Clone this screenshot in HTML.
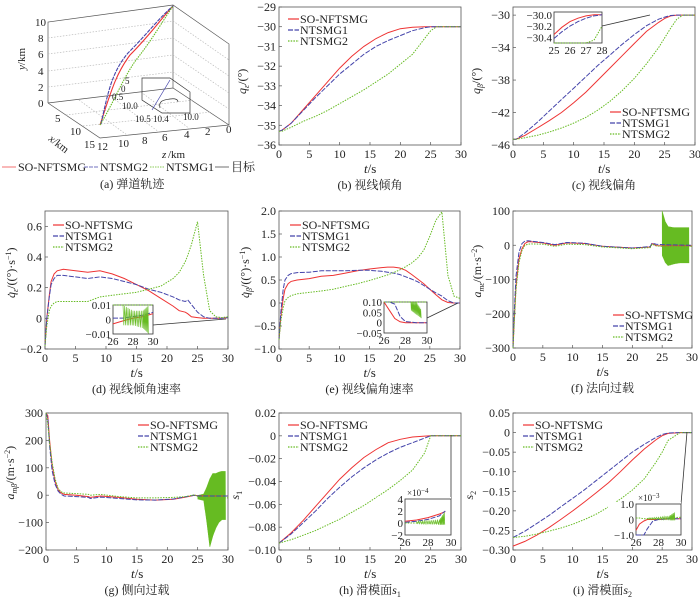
<!DOCTYPE html>
<html><head><meta charset="utf-8"><style>
html,body{margin:0;padding:0;background:#fff;}
svg, svg text{font-family:"Liberation Serif","Noto Serif CJK SC","Noto Sans CJK SC",serif;}
</style></head><body>
<svg id="fig" width="700" height="602" viewBox="0 0 700 602" xmlns="http://www.w3.org/2000/svg" font-family="Liberation Serif, Noto Serif CJK SC, serif">
<g id="panelA" stroke="#444" fill="none" stroke-width="0.7">
  <polyline points="48,103 48,22 173,5 229,44 229,125 173,88 48,103" stroke="#555"/>
  <line x1="173" y1="5" x2="173" y2="88" stroke="#555"/>
  <polyline points="48,103 100,138 229,125" stroke="#555"/>
  <g stroke="#bbb" stroke-dasharray="1.5,1.5">
    <line x1="48" y1="87" x2="173" y2="72"/><line x1="48" y1="71" x2="173" y2="55"/>
    <line x1="48" y1="54" x2="173" y2="38"/><line x1="48" y1="38" x2="173" y2="21"/>
    <line x1="173" y1="72" x2="229" y2="109"/><line x1="173" y1="55" x2="229" y2="93"/>
    <line x1="173" y1="38" x2="229" y2="76"/><line x1="173" y1="21" x2="229" y2="60"/>
    <line x1="66" y1="115" x2="194" y2="100"/><line x1="83" y1="126" x2="211" y2="112"/>
    <line x1="79" y1="100" x2="127" y2="135"/><line x1="110" y1="96" x2="159" y2="132"/><line x1="141" y1="92" x2="190" y2="129"/>
  </g>
  <path d="M100,125 C110,95 115,75 130,55 C150,35 160,20 173,6" stroke="#e33" stroke-width="1.1"/>
  <path d="M101,124 C108,92 112,72 128,53 C148,33 158,19 173,6" stroke="#44a" stroke-width="1.1" stroke-dasharray="4,1"/>
  <path d="M100,125 C115,100 122,80 136,60 C152,40 162,22 173,6" stroke="#6b2" stroke-width="1.1" stroke-dasharray="1.5,1"/>
  <polygon points="142,78 170,78 190,92 190,113 162,113 142,100" stroke="#333"/>
  <path d="M152,110 L170,80" stroke="#44a"/>
  <path d="M160,108 C158,100 165,100 170,99 C176,98 178,100 178,102" stroke="#333"/>
  <g fill="#222" stroke="none" font-size="11">
    <text x="35" y="26">10</text><text x="38" y="42">8</text><text x="38" y="58">6</text><text x="38" y="75">4</text><text x="38" y="91">2</text><text x="38" y="107">0</text>
    <text x="55" y="122">5</text><text x="70" y="135">10</text><text x="84" y="148">15</text>
    <text x="97" y="150">12</text><text x="118" y="147">10</text><text x="142" y="144">8</text><text x="162" y="141">6</text><text x="184" y="138">4</text><text x="205" y="135">2</text><text x="226" y="133">0</text>
    <text x="122" y="109" font-size="9">10.0</text><text x="135" y="122" font-size="9">10.5</text><text x="153" y="122" font-size="9">10.4</text><text x="183" y="120" font-size="9">10.0</text>
    <text x="125" y="84" font-size="9">5</text><text x="121" y="92" font-size="9">0</text><text x="112" y="100" font-size="9">0.5</text>
    <text x="162" y="158" font-style="italic">z</text><text x="168" y="158">/km</text>
    <text transform="translate(25,70) rotate(-90)" font-style="italic">y<tspan font-style="normal">/km</tspan></text>
    <text transform="translate(48,140) rotate(38)" font-style="italic">x<tspan font-style="normal">/km</tspan></text>
  </g>
  <g font-size="12" stroke="none" fill="#222">
    <line x1="2" y1="167" x2="16" y2="167" stroke="#e33"/><text x="18" y="171">SO-NFTSMG</text>
    <line x1="84" y1="167" x2="98" y2="167" stroke="#44a" stroke-dasharray="4,1"/><text x="100" y="171">NTSMG2</text>
    <line x1="150" y1="167" x2="164" y2="167" stroke="#6b2" stroke-dasharray="1.5,1"/><text x="166" y="171">NTSMG1</text>
    <line x1="215" y1="167" x2="229" y2="167" stroke="#333"/><text x="231" y="171">目标</text>
  </g>
  <text x="100" y="188" font-size="12" fill="#222" stroke="none">(a) 弹道轨迹</text>
</g>
</svg>
<script>
// ---------- data ----------
const tB=[0,0.5,2,4,6,8,10,12,14,16,18,20,22,24,25,26,27,28,30];
const bRed=[-35.3,-35.25,-34.9,-34.2,-33.5,-32.8,-32.1,-31.5,-31.0,-30.6,-30.3,-30.1,-30.03,-30.0,-30,-30,-30,-30,-30];
const bBlue=[-35.3,-35.25,-34.9,-34.25,-33.6,-33.0,-32.4,-31.9,-31.4,-31.0,-30.7,-30.45,-30.2,-30.05,-30.0,-30,-30,-30,-30];
const bGreen=[-35.3,-35.3,-35.1,-34.8,-34.55,-34.25,-33.9,-33.55,-33.2,-32.8,-32.4,-31.9,-31.4,-30.6,-30.2,-30.0,-30,-30,-30];
const cRed=[-45.3,-45.3,-44.8,-43.9,-43.0,-42.0,-40.8,-39.5,-38.0,-36.5,-35.0,-33.5,-32.0,-30.9,-30.4,-30.1,-30.0,-30,-30];
const cBlue=[-45.3,-45.3,-44.5,-43.2,-41.8,-40.4,-39.0,-37.6,-36.2,-34.9,-33.6,-32.4,-31.3,-30.5,-30.25,-30.05,-30,-30,-30];
const cGreen=[-45.3,-45.3,-45.1,-44.8,-44.4,-43.9,-43.3,-42.6,-41.7,-40.6,-39.3,-37.8,-36.0,-34.0,-32.8,-31.6,-30.5,-30.0,-30];
const tD=[0,0.3,0.7,1,1.5,2,3,5,7,9,11,13,15,17,19,21,22,23,23.4,24,25,26,27,28,29,30];
const dRed=[-0.18,0,0.15,0.24,0.29,0.31,0.32,0.31,0.3,0.31,0.29,0.26,0.22,0.18,0.13,0.08,0.05,0.04,0.03,0.01,0.005,0,0,0,0,0.005];
const dBlue=[-0.18,0,0.14,0.22,0.26,0.28,0.28,0.27,0.26,0.27,0.26,0.24,0.22,0.19,0.17,0.14,0.12,0.11,0.12,0.09,0.04,0.01,0,0,0,0.005];
const dGreen=[-0.18,-0.05,0.05,0.08,0.1,0.11,0.11,0.11,0.11,0.14,0.15,0.16,0.17,0.19,0.21,0.26,0.3,0.37,0.41,0.48,0.63,0.28,0.05,0.01,0.005,0.01];
const tE=[0,0.3,0.7,1,1.5,2,3,5,7,9,11,13,15,17,18,19,20,21,22,23,24,25,26,27,28,29,30];
const eRed=[-0.8,-0.3,0.1,0.3,0.42,0.47,0.5,0.53,0.58,0.6,0.65,0.7,0.74,0.77,0.78,0.78,0.76,0.71,0.62,0.52,0.42,0.3,0.18,0.07,0.01,0,0];
const eBlue=[-0.8,-0.2,0.3,0.5,0.6,0.64,0.66,0.67,0.7,0.7,0.7,0.71,0.71,0.69,0.67,0.65,0.62,0.57,0.52,0.46,0.38,0.3,0.22,0.15,0.05,0,0];
const eGreen=[-0.8,-0.4,-0.1,0.05,0.12,0.16,0.2,0.23,0.26,0.3,0.36,0.42,0.49,0.57,0.61,0.66,0.72,0.79,0.87,0.98,1.15,1.45,1.8,1.98,0.6,0.15,0.1];
const tF=[0,0.2,0.5,1,1.5,2,2.5,3,5,7,9,12,15,17,20,23,23.3,24,25,27,30];
const fRed=[-300,-220,-120,-40,-10,5,10,10,7,0,7,5,-3,-5,-8,-5,5,-1,-2,-2,-2];
const fBlue=[-300,-200,-90,-20,5,12,13,12,8,2,8,6,-3,-5,-8,-4,6,3,2,1,0];
const fGreen=[-300,-230,-130,-50,-15,0,3,4,3,-3,3,2,-5,-7,-10,-7,3,-2,-3,-3,-3];
const fBandT=[25,25.5,26,27,28,29,29.5];
const fBandHi=[100,70,55,52,52,52,52];
const fBandLo=[-30,-50,-60,-55,-52,-52,-52];
const tG=[0,0.3,0.6,1,1.5,2,2.5,3,5,7,7.3,9,12,15,18,21,23,24.5,25,27,30];
const gRed=[300,290,200,110,50,20,8,3,0,-5,-8,-3,-8,-15,-18,-15,-7,0,-2,-3,-3];
const gBlue=[300,280,180,90,40,15,3,-3,-5,-8,-12,-7,-12,-17,-18,-14,-6,0,-3,-3,-3];
const gGreen=[300,260,190,120,60,25,12,8,6,3,0,3,-5,-10,-10,-8,-5,2,-5,-10,-10];
const gBandT=[25,26,26.5,27,27.5,28,28.5,29,29.6];
const gBandHi=[0,5,30,60,80,80,85,88,88];
const gBandLo=[-15,-20,-100,-190,-150,-120,-100,-90,-90];
const tH=[0,2,4,6,8,10,12,14,16,18,20,22,24,25,26,28,30];
const hRed=[-0.094,-0.085,-0.074,-0.062,-0.05,-0.038,-0.028,-0.019,-0.012,-0.006,-0.003,-0.001,-0.0002,0,0,0,0];
const hBlue=[-0.094,-0.086,-0.076,-0.066,-0.055,-0.045,-0.036,-0.028,-0.021,-0.015,-0.01,-0.006,-0.002,0,0,0,0];
const hGreen=[-0.094,-0.091,-0.087,-0.083,-0.078,-0.073,-0.067,-0.061,-0.054,-0.047,-0.039,-0.03,-0.015,0,0,0,0];
const iRed=[-0.29,-0.278,-0.262,-0.243,-0.222,-0.2,-0.177,-0.153,-0.128,-0.1,-0.07,-0.042,-0.018,-0.008,-0.002,0,0];
const iBlue=[-0.268,-0.252,-0.232,-0.212,-0.19,-0.168,-0.146,-0.122,-0.098,-0.074,-0.05,-0.03,-0.012,-0.005,-0.001,0,0];
const iGreen=[-0.268,-0.265,-0.259,-0.252,-0.244,-0.234,-0.222,-0.208,-0.19,-0.17,-0.147,-0.118,-0.075,-0.05,-0.02,0,0];
const xTicks=[0,5,10,15,20,25,30];
const legendNames=["SO-NFTSMG","NTSMG1","NTSMG2"];

// ---------- drawing ----------
const NS="http://www.w3.org/2000/svg";
const fig=document.getElementById('fig');
const COL=["#e33","#44a","#6b2"];
const DASH=["","5,1.5","1.5,1.2"];
const FF='"Liberation Serif","Noto Serif CJK SC",serif';
function el(tag,attrs,parent){const e=document.createElementNS(NS,tag);for(const k in attrs)e.setAttribute(k,attrs[k]);parent.appendChild(e);return e;}
function txt(s,x,y,parent,extra){const t=el('text',Object.assign({x:x,y:y,'font-size':12,fill:'#222','font-family':FF},extra||{}),parent);t.textContent=s;return t;}

function panel(p){
  const g=el('g',{},fig);
  
  
  const sx=v=>p.x0+(v-p.xmin)/(p.xmax-p.xmin)*(p.x1-p.x0);
  const sy=v=>p.y1-(v-p.ymin)/(p.ymax-p.ymin)*(p.y1-p.y0);
  const frame=el('rect',{x:p.x0,y:p.y0,width:p.x1-p.x0,height:p.y1-p.y0,fill:'none',stroke:'#555','stroke-width':0.8},g);
  
  
  p.xt.forEach(v=>{
    el('line',{x1:sx(v),x2:sx(v),y1:p.y1,y2:p.y1-3,stroke:'#555','stroke-width':0.7},g);
    const t=txt(String(v),sx(v),p.y1+13,g,{'text-anchor':'middle'});
    
    
  });
  p.yt.forEach((v,i)=>{
    el('line',{x1:p.x0,x2:p.x0+3,y1:sy(v),y2:sy(v),stroke:'#555','stroke-width':0.7},g);
    const t=txt(p.ytl[i],p.x0-3,sy(v)+4,g,{'text-anchor':'end'});
    
    
  });
  const xl=txt('',(p.x0+p.x1)/2-6,p.y1+28,g,{'font-size':13});
  xl.innerHTML='<tspan font-style="italic">t</tspan>/s';
  
  
  const yl=txt('',0,0,g,{'font-size':12,transform:'translate('+(p.x0-p.ylOff)+','+((p.y0+p.y1)/2+18)+') rotate(-90)'});
  yl.innerHTML=p.ylab;
  
  
  const cap=txt('',(p.x0+p.x1)/2,p.y1+44,g,{'text-anchor':'middle'});
  cap.innerHTML=p.cap;
  
  
  if(p.band){
    const b=p.band;let d='';
    for(let k=0;k<b.t.length-1;k++){
      const n=30;
      for(let s=0;s<n;s++){
        const f=s/n,tt=b.t[k]+(b.t[k+1]-b.t[k])*f;
        const hi=b.hi[k]+(b.hi[k+1]-b.hi[k])*f, lo=b.lo[k]+(b.lo[k+1]-b.lo[k])*f;
        d+=(d?'L':'M')+sx(tt).toFixed(1)+','+sy(s%2?lo:hi).toFixed(1);
      }
    }
    const bp=el('path',{d:d,fill:'none',stroke:'#6b2','stroke-width':0.6},g);
    
    
  }
  p.series.forEach((s,i)=>{
    const pts=s.map((v,k)=>sx(p.t[k]).toFixed(1)+','+sy(v).toFixed(1)).join(' ');
    const pl=el('polyline',{points:pts,fill:'none',stroke:COL[i],'stroke-width':1,'stroke-dasharray':DASH[i]},g);
    
    
  });
  const lg=el('g',{},g);
  
  
  legendNames.forEach((n,i)=>{
    const yy=p.lg[1]+i*11;
    el('line',{x1:p.lg[0]-12,x2:p.lg[0]-1,y1:yy-4,y2:yy-4,stroke:COL[i],'stroke-width':1.2,'stroke-dasharray':DASH[i]},lg);
    const t=txt(n,p.lg[0],yy,lg);
    
    
  });
  if(p.inset){
    const q=p.inset;
    const ig=el('g',{},g);
    
    
    el('line',{x1:q.x1,y1:q.ly,x2:q.px,y2:q.py,stroke:'#333','stroke-width':0.8},ig);
    el('rect',{x:q.x0-28,y:q.y0-2,width:q.x1-q.x0+28,height:q.y1-q.y0+14,fill:'#fff',stroke:'none'},ig);
    el('rect',{x:q.x0,y:q.y0,width:q.x1-q.x0,height:q.y1-q.y0,fill:'#fff',stroke:'#333','stroke-width':0.8},ig);
    const ix=v=>q.x0+(v-q.xmin)/(q.xmax-q.xmin)*(q.x1-q.x0);
    const iy=v=>q.y1-(v-q.ymin)/(q.ymax-q.ymin)*(q.y1-q.y0);
    q.xt.forEach(v=>txt(String(v),ix(v),q.y1+11,ig,{'text-anchor':'middle','font-size':11}));
    q.yt.forEach((v,i)=>txt(q.ytl[i],q.x0-2,iy(v)+4,ig,{'text-anchor':'end','font-size':11}));
    if(q.exp)txt('',q.x0+2,q.y0-3,ig,{'font-size':9}).innerHTML=q.exp;
    q.series.forEach((s,i)=>{
      const pts=s.map((v,k)=>ix(q.t[k]).toFixed(1)+','+iy(Math.max(q.ymin,Math.min(q.ymax,v))).toFixed(1)).join(' ');
      el('polyline',{points:pts,fill:'none',stroke:COL[i],'stroke-width':1,'stroke-dasharray':DASH[i]},ig);
    });
    if(q.band){
      const b=q.band;let d='';
      for(let k=0;k<b.t.length-1;k++){for(let s=0;s<12;s++){const f=s/12,tt=b.t[k]+(b.t[k+1]-b.t[k])*f;const hi=b.hi[k]+(b.hi[k+1]-b.hi[k])*f,lo=b.lo[k]+(b.lo[k+1]-b.lo[k])*f;d+=(d?'L':'M')+ix(tt).toFixed(1)+','+iy(s%2?lo:hi).toFixed(1);}}
      el('path',{d:d,fill:'none',stroke:'#6b2','stroke-width':0.6},ig);
    }
  }
}

const inTc=[25,25.5,26,26.5,27,27.5,28];
const incRed=[-30.35,-30.22,-30.12,-30.06,-30.02,-30.0,-30.0];
const incBlue=[-30.42,-30.3,-30.2,-30.12,-30.06,-30.02,-30.0];
const incGreen=[-31.5,-31.2,-31.0,-30.9,-30.7,-30.45,-30.2];
const inTd=[26,27,28,29,29.5,30];
const indRed=[-0.003,-0.001,0.001,0.002,0.003,0.004];
const indBlue=[0.001,0.001,0.002,0.003,0.004,0.005];
const indGreen=[0.02,0.02,0.02,0.02,0.02,0.02];
const indBandT=[27,28,29,29.6];const indBandHi=[0.01,0.006,0.006,0.01];const indBandLo=[-0.004,-0.004,-0.006,-0.01];
const inTe=[26,26.5,27,27.5,28,29,30];
const ineRed=[0.1,0.06,0.02,0.004,0,0,0];
const ineBlue=[0.2,0.14,0.09,0.03,0.005,0,0];
const ineGreen=[0.5,0.4,0.35,0.3,0.25,0.12,0.1];
const ineBandT=[28.5,29,29.5];const ineBandHi=[0.1,0.1,0.06];const ineBandLo=[0.06,0.04,0.02];
const inTh=[26,27,28,29,29.5];
const inhRed=[0.3,0.5,0.9,1.5,1.9];
const inhBlue=[0.1,0.3,0.6,1.2,2.0];
const inhGreen=[0,0,0,0,0];
const inhBandT=[27,28,29,29.5];const inhBandHi=[0.3,0.4,0.6,2];const inhBandLo=[-0.1,-0.2,-0.3,-0.3];
const inTi=[26,26.3,26.7,27,27.5,28,29,30];
const iniRed=[-0.7,-0.3,-0.1,0,0,0,0.05,0.05];
const iniBlue=[-3,-2.5,-1.5,-0.6,-0.1,0,0.05,0.05];
const iniGreen=[0.1,0.1,0.05,0.05,0.05,0.08,0.1,0.15];
const iniBandT=[27,28,29,29.5];const iniBandHi=[0.1,0.15,0.25,0.5];const iniBandLo=[0,0,-0.05,-0.05];

panel({name:'panel-b-los-elevation',x0:279,x1:461,y0:7,y1:145,xmin:0,xmax:30,ymin:-36,ymax:-29,xt:xTicks,
 yt:[-29,-30,-31,-32,-33,-34,-35,-36],ytl:['−29','−30','−31','−32','−33','−34','−35','−36'],ylOff:33,
 ylab:'<tspan font-style="italic">q</tspan><tspan font-size="8" font-style="italic" dy="3">ε</tspan><tspan dy="-3">/(°)</tspan>',
 cap:'(b) 视线倾角',t:tB,series:[bRed,bBlue,bGreen],lg:[300,23]});
panel({name:'panel-c-los-azimuth',x0:513,x1:695,y0:7,y1:145,xmin:0,xmax:30,ymin:-46,ymax:-29,xt:xTicks,
 yt:[-30,-34,-38,-42,-46],ytl:['−30','−34','−38','−42','−46'],ylOff:33,
 ylab:'<tspan font-style="italic">q</tspan><tspan font-size="8" font-style="italic" dy="3">β</tspan><tspan dy="-3">/(°)</tspan>',
 cap:'(c) 视线偏角',t:tB,series:[cRed,cBlue,cGreen],lg:[622,116],
 inset:{x0:554,x1:602,y0:12,y1:43,xmin:25,xmax:28,ymin:-30.5,ymax:-29.95,xt:[25,26,27,28],yt:[-30.0,-30.2,-30.4],ytl:['−30.0','−30.2','−30.4'],ly:26,px:650,py:15,t:inTc,series:[incRed,incBlue,incGreen]}});
panel({name:'panel-d-los-elevation-rate',x0:45,x1:228,y0:211,y1:349,xmin:0,xmax:30,ymin:-0.2,ymax:0.7,xt:xTicks,
 yt:[-0.2,0,0.2,0.4,0.6],ytl:['−0.2','0','0.2','0.4','0.6'],ylOff:30,
 ylab:'<tspan font-style="italic">q̇</tspan><tspan font-size="8" font-style="italic" dy="3">ε</tspan><tspan dy="-3">/((°)·s</tspan><tspan font-size="8" dy="-4">−1</tspan><tspan dy="4">)</tspan>',
 cap:'(d) 视线倾角速率',t:tD,series:[dRed,dBlue,dGreen],lg:[65,229],
 inset:{x0:113,x1:153,y0:305,y1:334,xmin:26,xmax:30,ymin:-0.01,ymax:0.01,xt:[26,28,30],yt:[0.01,0,-0.01],ytl:['0.01','0','−0.01'],ly:325,px:226,py:319,t:inTd,series:[indRed,indBlue,indGreen],band:{t:indBandT,hi:indBandHi,lo:indBandLo}}});
panel({name:'panel-e-los-azimuth-rate',x0:279,x1:460,y0:211,y1:349,xmin:0,xmax:30,ymin:-1,ymax:2,xt:xTicks,
 yt:[-1,-0.5,0,0.5,1,1.5,2],ytl:['−1.0','−0.5','0','0.5','1.0','1.5','2.0'],ylOff:30,
 ylab:'<tspan font-style="italic">q̇</tspan><tspan font-size="8" font-style="italic" dy="3">β</tspan><tspan dy="-3">/((°)·s</tspan><tspan font-size="8" dy="-4">−1</tspan><tspan dy="4">)</tspan>',
 cap:'(e) 视线偏角速率',t:tE,series:[eRed,eBlue,eGreen],lg:[302,229],
 inset:{x0:384,x1:427,y0:302,y1:333,xmin:26,xmax:30,ymin:-0.05,ymax:0.1,xt:[26,28,30],yt:[0.1,0.05,0,-0.05],ytl:['0.10','0.05','0','−0.05'],ly:318,px:458,py:303,t:inTe,series:[ineRed,ineBlue,ineGreen],band:{t:ineBandT,hi:ineBandHi,lo:ineBandLo}}});
panel({name:'panel-f-normal-overload',x0:513,x1:692,y0:211,y1:348,xmin:0,xmax:30,ymin:-300,ymax:100,xt:xTicks,
 yt:[100,0,-100,-200,-300],ytl:['100','0','−100','−200','−300'],ylOff:32,
 ylab:'<tspan font-style="italic">a</tspan><tspan font-size="8" font-style="italic" dy="3">mε</tspan><tspan dy="-3">/(m·s</tspan><tspan font-size="8" dy="-4">−2</tspan><tspan dy="4">)</tspan>',
 cap:'(f) 法向过载',t:tF,series:[fRed,fBlue,fGreen],band:{t:fBandT,hi:fBandHi,lo:fBandLo},lg:[625,319]});
panel({name:'panel-g-lateral-overload',x0:46,x1:228,y0:413,y1:550,xmin:0,xmax:30,ymin:-200,ymax:300,xt:xTicks,
 yt:[300,200,100,0,-100,-200],ytl:['300','200','100','0','−100','−200'],ylOff:32,
 ylab:'<tspan font-style="italic">a</tspan><tspan font-size="8" font-style="italic" dy="3">mβ</tspan><tspan dy="-3">/(m·s</tspan><tspan font-size="8" dy="-4">−2</tspan><tspan dy="4">)</tspan>',
 cap:'(g) 侧向过载',t:tG,series:[gRed,gBlue,gGreen],band:{t:gBandT,hi:gBandHi,lo:gBandLo},lg:[150,429]});
panel({name:'panel-h-sliding-surface-s1',x0:279,x1:461,y0:413,y1:550,xmin:0,xmax:30,ymin:-0.1,ymax:0.02,xt:xTicks,
 yt:[0.02,0,-0.02,-0.04,-0.06,-0.08,-0.1],ytl:['0.02','0','−0.02','−0.04','−0.06','−0.08','−0.10'],ylOff:40,
 ylab:'<tspan font-style="italic">s</tspan><tspan font-size="8" dy="3">1</tspan>',
 cap:'(h) 滑模面<tspan font-style="italic">s</tspan><tspan font-size="8" dy="3">1</tspan>',t:tH,series:[hRed,hBlue,hGreen],lg:[300,429],
 inset:{x0:405,x1:451,y0:499,y1:535,xmin:26,xmax:30,ymin:-2,ymax:4,xt:[26,28,30],yt:[4,2,0,-2],ytl:['4','2','0','−2'],exp:'×10<tspan font-size="7" dy="-3">−4</tspan>',ly:499,px:451,py:435,t:inTh,series:[inhRed,inhBlue,inhGreen],band:{t:inhBandT,hi:inhBandHi,lo:inhBandLo}}});
panel({name:'panel-i-sliding-surface-s2',x0:513,x1:692,y0:413,y1:550,xmin:0,xmax:30,ymin:-0.3,ymax:0.05,xt:xTicks,
 yt:[0.05,0,-0.05,-0.1,-0.15,-0.2,-0.25,-0.3],ytl:['0.05','0','−0.05','−0.10','−0.15','−0.20','−0.25','−0.30'],ylOff:40,
 ylab:'<tspan font-style="italic">s</tspan><tspan font-size="8" dy="3">2</tspan>',
 cap:'(i) 滑模面<tspan font-style="italic">s</tspan><tspan font-size="8" dy="3">2</tspan>',t:tH,series:[iRed,iBlue,iGreen],lg:[535,429],
 inset:{x0:636,x1:681,y0:504,y1:535,xmin:26,xmax:30,ymin:-1,ymax:1,xt:[26,28,30],yt:[1,0,-1],ytl:['1.0','0','−1.0'],exp:'×10<tspan font-size="7" dy="-3">−3</tspan>',ly:504,px:687,py:432,t:inTi,series:[iniRed,iniBlue,iniGreen],band:{t:iniBandT,hi:iniBandHi,lo:iniBandLo}}});
</script>
</body></html>
